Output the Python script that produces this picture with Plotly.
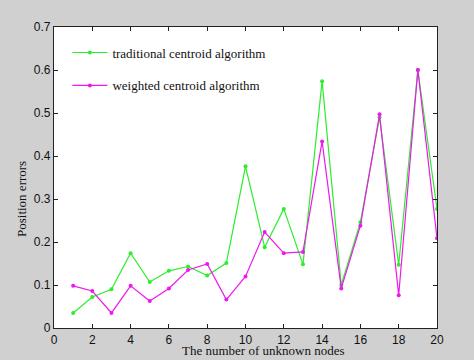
import plotly.graph_objects as go

nodes = list(range(1, 21))
traditional = [0.035, 0.072, 0.090, 0.174, 0.107, 0.133, 0.143, 0.122, 0.151, 0.376,
               0.188, 0.277, 0.148, 0.574, 0.100, 0.246, 0.490, 0.147, 0.600, 0.277]
weighted = [0.098, 0.086, 0.035, 0.098, 0.063, 0.092, 0.135, 0.149, 0.066, 0.120,
            0.223, 0.174, 0.177, 0.434, 0.092, 0.238, 0.497, 0.076, 0.600, 0.209]
x_ticks = list(range(0, 21, 2))
y_ticks = [0, 0.1, 0.2, 0.3, 0.4, 0.5, 0.6, 0.7]
y_tick_text = ["0", "0.1", "0.2", "0.3", "0.4", "0.5", "0.6", "0.7"]

fig = go.Figure()
fig.add_trace(go.Scatter(x=nodes, y=traditional, mode="lines+markers",
                         name="traditional centroid algorithm", legendgroup="a",
                         line=dict(color="#2cee2c", width=1.2),
                         marker=dict(color="#2cee2c", size=4, symbol="circle")))
fig.add_trace(go.Scatter(x=nodes, y=weighted, mode="lines+markers",
                         name="weighted centroid algorithm", legendgroup="b",
                         line=dict(color="#ee18ee", width=1.2),
                         marker=dict(color="#ee18ee", size=4, symbol="circle")))

axis_common = dict(showgrid=False, zeroline=False, showline=True, linecolor="#222222",
                   linewidth=1.3, mirror="ticks", ticks="inside", ticklen=4,
                   tickcolor="#222222",
                   tickfont=dict(family="Liberation Sans, Arial", size=12, color="#111111"))

fig.update_xaxes(range=[0, 20], tickvals=x_ticks, **axis_common)
fig.update_yaxes(range=[0, 0.7], tickvals=y_ticks, ticktext=y_tick_text, **axis_common)

fig.update_layout(
    width=474, height=360,
    margin=dict(l=54, r=37, t=27, b=32),
    paper_bgcolor="#d0d0d0", plot_bgcolor="white",
    showlegend=True,
    legend=dict(x=0.035, y=0.965, xanchor="left", yanchor="top",
                bgcolor="rgba(0,0,0,0)", itemwidth=35, tracegroupgap=13,
                font=dict(family="Liberation Serif, Times New Roman", size=13, color="#111111")),
    annotations=[
        dict(text="The number of unknown nodes", xref="paper", yref="paper",
             x=0.545, y=-0.043, xanchor="center", yanchor="top", showarrow=False,
             font=dict(family="Liberation Serif, Times New Roman", size=13, color="#111111")),
        dict(text="Position errors", xref="paper", yref="paper",
             x=-0.085, y=0.43, xanchor="center", yanchor="middle", showarrow=False,
             textangle=-90,
             font=dict(family="Liberation Serif, Times New Roman", size=13, color="#111111")),
    ],
)

fig.write_html("out.html", config={"displayModeBar": False},
               post_script="document.body.style.margin='0';document.body.style.overflow='hidden';")
